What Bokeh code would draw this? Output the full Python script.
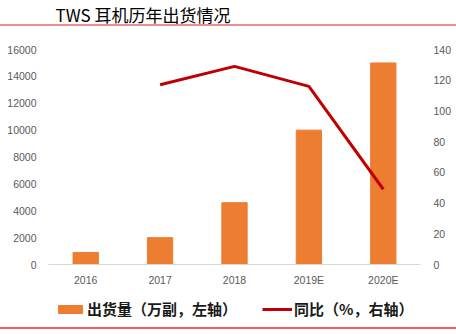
from bokeh.plotting import figure
from bokeh.layouts import column
from bokeh.models import (FactorRange, Range1d, LinearAxis, FixedTicker, Legend,
                          LegendItem, Label)
from bokeh.embed import file_html
from bokeh.resources import INLINE

# ---- data ----
years = ["2016", "2017", "2018", "2019E", "2020E"]
shipments = [900, 2000, 4600, 10000, 15000]          # 万副, left axis
yoy_years = ["2017", "2018", "2019E", "2020E"]
yoy = [117, 129, 116, 49]                            # %, right axis
left_ticks = [0, 2000, 4000, 6000, 8000, 10000, 12000, 14000, 16000]
right_ticks = [0, 20, 40, 60, 80, 100, 120, 140]
title_text = "TWS 耳机历年出货情况"
bar_label = "出货量（万副，左轴）"
line_label = "同比（%，右轴）"

ORANGE = "#ED7D31"
DARKRED = "#C00000"
TICK_COLOR = "#595959"
TICK_FONT = "Liberation Sans"
CJK = "Noto Sans CJK SC"

W, H = 456, 334
MAIN_H = 288
LEG_H = H - MAIN_H
FRAME_TOP, FRAME_BOTTOM = 4, 264       # frame extends above the 16000 row so the title fits inside
AXIS_TOP = 49                          # pixel row of 16000 / 140
LEFT_MAX, RIGHT_MAX = left_ticks[-1], right_ticks[-1]
scale = (FRAME_BOTTOM - FRAME_TOP) / (FRAME_BOTTOM - AXIS_TOP)

p = figure(x_range=FactorRange(*years), y_range=Range1d(0, LEFT_MAX * scale),
           width=W, height=MAIN_H, output_backend="svg", toolbar_location=None,
           min_border_left=48, min_border_right=36, min_border_top=FRAME_TOP,
           min_border_bottom=MAIN_H - FRAME_BOTTOM)
p.extra_y_ranges = {"right": Range1d(0, RIGHT_MAX * scale)}
p.outline_line_color = None
p.xgrid.visible = False
p.ygrid.visible = False
p.background_fill_alpha = 0
p.border_fill_alpha = 0
p.styles = {"background": "linear-gradient(#f08c8c,#f08c8c) 0px 24px / 456px 2px no-repeat, #ffffff"}

bars = p.vbar(x=years, top=shipments, width=0.34, color=ORANGE)
line = p.line(x=yoy_years, y=yoy, y_range_name="right",
              line_color=DARKRED, line_width=3)

# axes
xa = p.xaxis[0]
xa.axis_line_color = "#d9d9d9"
xa.axis_line_width = 1
xa.major_tick_line_color = None
xa.minor_tick_line_color = None
xa.major_tick_out = 0
xa.major_label_standoff = 9
xa.major_label_text_font = TICK_FONT
xa.major_label_text_font_size = "10.5px"
xa.major_label_text_color = TICK_COLOR

ya = p.yaxis[0]
ya.ticker = FixedTicker(ticks=left_ticks)
ya.axis_line_color = None
ya.major_tick_line_color = None
ya.minor_tick_line_color = None
ya.major_tick_out = 0
ya.major_label_standoff = 12
ya.major_label_text_font = TICK_FONT
ya.major_label_text_font_size = "10.5px"
ya.major_label_text_color = TICK_COLOR

ra = LinearAxis(y_range_name="right", ticker=FixedTicker(ticks=right_ticks))
ra.axis_line_color = None
ra.major_tick_line_color = None
ra.minor_tick_line_color = None
ra.major_tick_out = 0
ra.major_label_standoff = 13
ra.major_label_text_font = TICK_FONT
ra.major_label_text_font_size = "10.5px"
ra.major_label_text_color = TICK_COLOR
p.add_layout(ra, "right")

# title inside the (extended) frame: screen units from frame left / frame bottom
title = Label(x=7, y=FRAME_BOTTOM - 14, x_units="screen", y_units="screen",
              text=title_text, text_font=CJK, text_font_size="17px",
              text_color="#000000", text_baseline="middle", text_align="left")
p.add_layout(title)

# ---- legend strip (same series, drawn far below its visible y window, used only as legend keys) ----
lf = figure(width=W, height=LEG_H, output_backend="svg", toolbar_location=None,
            x_range=FactorRange(*years), y_range=Range1d(50000, 50001),
            x_axis_location=None, y_axis_location=None, min_border=0)
lf.extra_y_ranges = {"right": Range1d(50000, 50001)}
lf.grid.visible = False
lf.outline_line_color = None
lf.background_fill_alpha = 0
lf.border_fill_alpha = 0
lf.styles = {"background": "linear-gradient(#f0605f,#f0605f) 0px %dpx / 456px 2px no-repeat, #ffffff" % (327 - MAIN_H)}

bar_key = lf.vbar(x=years, top=shipments, width=0.34, color=ORANGE)
line_key = lf.line(x=yoy_years, y=yoy, y_range_name="right",
                   line_color=DARKRED, line_width=3)

legend = Legend(items=[LegendItem(label=bar_label, renderers=[bar_key]),
                       LegendItem(label=line_label, renderers=[line_key])],
                orientation="horizontal", location=(7, 15),
                glyph_width=30, glyph_height=10, label_height=10,
                label_standoff=2, spacing=25, padding=0, margin=0,
                border_line_color=None, background_fill_alpha=0,
                label_text_font=CJK, label_text_font_size="15px",
                label_text_font_style="bold", label_text_color="#1a1a1a")
lf.add_layout(legend)

layout = column(p, lf, spacing=0)
open("out.html", "w").write(file_html(layout, INLINE))
